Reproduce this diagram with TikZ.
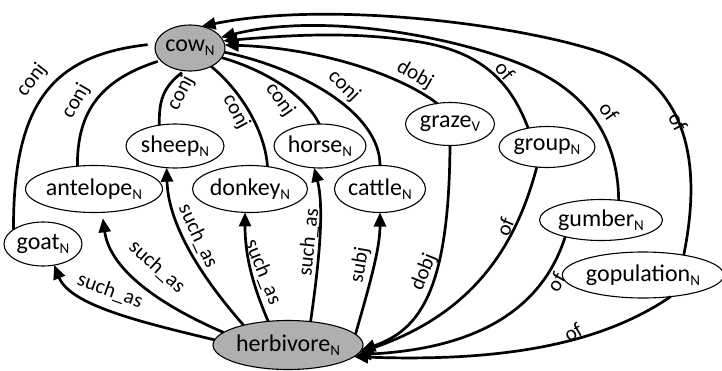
\documentclass[tikz,border=0pt]{standalone}
\usepackage{fontspec}
\setmainfont{Carlito}
\usetikzlibrary{shapes.geometric,arrows.meta}
\newcommand{\Nsub}[1]{\raisebox{-0.35ex}{\fontsize{15}{15}\selectfont #1}}
\definecolor{hubgray}{RGB}{175,175,175}
\tikzset{
  nd/.style={ellipse, draw, line width=1.1pt, inner sep=0pt, outer sep=0pt,
             minimum height=44pt, font=\fontsize{24}{24}\selectfont},
  hub/.style={nd, fill=hubgray},
  lab/.style={font=\fontsize{21}{21}\selectfont, inner sep=0pt},
  conj/.style={line width=2.7pt},
  arr/.style={line width=2.7pt, -{Triangle[length=14pt,width=12pt]}},
}
\begin{document}
\begin{tikzpicture}[x=1pt,y=-1pt]
\useasboundingbox (0,0) rectangle (722,370);
% nodes
\node[hub, minimum width=70pt, minimum height=46pt] (cow) at (190,48) {cow\Nsub{N}};
\node[nd, minimum width=98pt] (sheep) at (175,146) {sheep\Nsub{N}};
\node[nd, minimum width=92pt] (horse) at (320,146) {horse\Nsub{N}};
\node[nd, minimum width=137pt, minimum height=47pt] (antelope) at (94,189) {antelope\Nsub{N}};
\node[nd, minimum width=115pt, minimum height=47pt] (donkey) at (250,189) {donkey\Nsub{N}};
\node[nd, minimum width=91pt, minimum height=47pt] (cattle) at (380,189) {cattle\Nsub{N}};
\node[nd, minimum width=78pt] (goat) at (43,244) {goat\Nsub{N}};
\node[nd, minimum width=89pt, minimum height=43pt] (graze) at (450,124) {graze\Nsub{V}};
\node[nd, minimum width=96pt, minimum height=41pt] (group) at (547,147) {group\Nsub{N}};
\node[nd, minimum width=123pt, minimum height=41pt] (gumber) at (601,220) {gumber\Nsub{N}};
\node[nd, minimum width=157pt, minimum height=46pt] (gopulation) at (643,275) {gopulation\Nsub{N}};
\node[hub, minimum width=150pt, minimum height=49pt] (herbivore) at (288,345) {herbivore\Nsub{N}};
% conj edges
\draw[conj, shorten <=8pt] (cow.173) .. controls (55,55) and (13,100) .. (goat.154);
\draw[conj, shorten <=3pt] (cow.203) .. controls (100,80) and (77,112) .. (antelope.126);
\draw[conj, shorten <=3pt] (cow.256) .. controls (162,88) and (159,102) .. (sheep.127);
\draw[conj] (cow.319) .. controls (240,90) and (265,130) .. (donkey.52);
\draw[conj] (cow.343) .. controls (265,70) and (305,95) .. (horse.92);
\draw[conj] (cow.353) .. controls (300,68) and (380,112) .. (cattle.90);
\node[lab, rotate=52] (l1) at (32,80) {conj};
\node[lab, rotate=60] (l2) at (76,101) {conj};
\node[lab, rotate=62] (l3) at (181,93) {conj};
\node[lab, rotate=-62] (l4) at (236,112) {conj};
\node[lab, rotate=-55] (l5) at (280,100) {conj};
\node[lab, rotate=-45] (l6) at (344,86) {conj};
% edges into cow
\draw[arr] (graze.122) .. controls (400,75) and (320,48) .. (cow.5);
\draw[arr] (group.135) .. controls (510,80) and (480,52) .. (420,42) .. controls (360,32) and (300,34) .. (cow.12);
\draw[arr] (gumber.48) .. controls (618,140) and (590,95) .. (530,68) .. controls (470,41) and (330,10) .. (cow.19);
\draw[arr] (gopulation.26) .. controls (705,150) and (680,80) .. (600,52) .. controls (520,25) and (330,0) .. (cow.62);
\node[lab, rotate=-30] (l7) at (415,75) {dobj};
\node[lab, rotate=-50] (l8) at (505,71) {of};
\node[lab, rotate=-55] (l9) at (609,112) {of};
\node[lab, rotate=-62] (l10) at (678,122) {of};
% edges out of herbivore
\draw[arr] (herbivore.176) .. controls (140,322) and (70,305) .. (goat.298);
\draw[arr, shorten >=6pt] (herbivore.169) .. controls (160,305) and (110,270) .. (antelope.289);
\draw[arr] (herbivore.156) .. controls (195,270) and (168,220) .. (sheep.249);
\draw[arr] (herbivore.130) .. controls (255,290) and (245,260) .. (donkey.258);
\draw[arr] (herbivore.46) .. controls (318,270) and (325,210) .. (horse.255);
\draw[arr] (herbivore.9) .. controls (368,290) and (380,250) .. (cattle.270);
\node[lab, rotate=-20] (l11) at (110,291) {such\_as};
\node[lab, rotate=-42] (l12) at (157,267) {such\_as};
\node[lab, rotate=-65] (l13) at (198,236) {such\_as};
\node[lab, rotate=-68] (l14) at (263,272) {such\_as};
\node[lab, rotate=84] (l15) at (309,242) {such\_as};
\node[lab, rotate=80] (l16) at (360,265) {subj};
% edges into herbivore
\draw[arr] (graze.270) .. controls (449,290) and (420,330) .. (herbivore.-4);
\draw[arr] (group.243) .. controls (515,250) and (470,315) .. (herbivore.-6);
\draw[arr] (gumber.205) .. controls (545,300) and (490,348) .. (herbivore.-8);
\draw[arr] (gopulation.322) .. controls (600,345) and (500,362) .. (herbivore.-10);
\node[lab, rotate=68] (l17) at (424,272) {dobj};
\node[lab, rotate=68] (l18) at (505,227) {of};
\node[lab, rotate=60] (l19) at (556,282) {of};
\node[lab, rotate=30] (l20) at (573,332) {of};
\end{tikzpicture}
\end{document}
